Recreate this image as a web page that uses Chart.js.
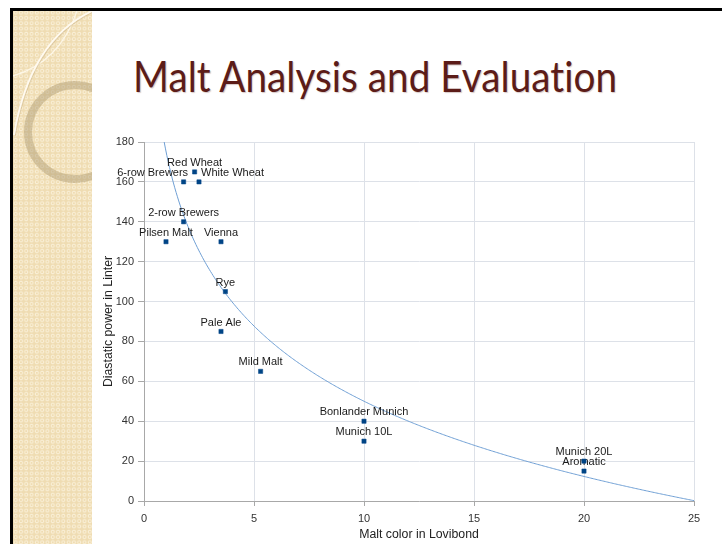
<!DOCTYPE html>
<html>
<head>
<meta charset="utf-8">
<title>Malt Analysis and Evaluation</title>
<script src="https://cdn.jsdelivr.net/npm/chart.js@4.4.1/dist/chart.umd.min.js"></script>
<style>
  html, body { margin: 0; padding: 0; background: #fff; }
  #slide { position: relative; width: 722px; height: 544px; overflow: hidden; background: #fff; }
  .rule { position: absolute; background: #000; }
  #strip {
    position: absolute; left: 13px; top: 10px; width: 79px; height: 534px;
    background-color: #efdcb2;
    background-image: radial-gradient(circle at 2.65px 2.65px,
      rgba(250, 241, 218, 0) 0.9px, rgba(251, 243, 222, 1) 1.5px, rgba(250, 241, 218, 0) 2.4px);
    background-size: 5.3px 5.3px;
  }
  #deco { position: absolute; left: 0; top: 0; }
  #title {
    position: absolute; left: 133px; top: 55px;
    font-family: Lato, "Open Sans", sans-serif; font-size: 42px; line-height: 42px;
    font-variant-ligatures: none; font-feature-settings: "liga" 0;
    color: #5c1c18; white-space: nowrap; transform-origin: 0 0;
    text-shadow: 1px 1px 1px rgba(90, 40, 30, 0.25);
  }
  #chart { position: absolute; left: 0; top: 0; }
</style>
</head>
<body>
<div id="slide">
  <div id="strip"></div>
  <svg id="deco" width="722" height="544">
    <defs>
      <clipPath id="stripClip"><rect x="13" y="10" width="79" height="534"/></clipPath>
    </defs>
    <g clip-path="url(#stripClip)" fill="none">
      <path d="M 77 11 Q 60 62 13 76" stroke="rgba(255,250,238,0.85)" stroke-width="1.2"/>
      <path d="M 93 12 Q 31 41 15 136" stroke="rgba(185,160,115,0.35)" stroke-width="1.5"/>
      <path d="M 92 11 Q 30 40 14 135" stroke="#fffaf0" stroke-width="1.8"/>
      <circle cx="75" cy="132" r="47" stroke="rgba(165,145,105,0.42)" stroke-width="8"/>
    </g>
  </svg>
  <div class="rule" style="left:10px;top:8px;width:712px;height:2.5px"></div>
  <div class="rule" style="left:10px;top:8px;width:3px;height:536px"></div>
  <div id="title">Malt Analysis and Evaluation</div>
  <canvas id="chart" width="722" height="544"></canvas>
</div>
<script>
// Malts, their colour (°Lovibond) and diastatic power (°Lintner)
const maltNames = ['6-row Brewers', 'Red Wheat', 'White Wheat', '2-row Brewers', 'Pilsen Malt',
  'Vienna', 'Rye', 'Pale Ale', 'Mild Malt', 'Bonlander Munich', 'Munich 10L', 'Munich 20L', 'Aromatic'];
const maltColor = [1.8, 2.3, 2.5, 1.8, 1, 3.5, 3.7, 3.5, 5.3, 10, 10, 20, 20];
const diastaticPower = [160, 165, 160, 140, 130, 130, 105, 85, 65, 40, 30, 20, 15];

const xTickValues = [0, 5, 10, 15, 20, 25];
const yTickValues = [0, 20, 40, 60, 80, 100, 120, 140, 160, 180];
const xAxisTitle = 'Malt color in Lovibond';
const yAxisTitle = 'Diastatic power in Linter';

// Fit the title line to its box width
const titleEl = document.getElementById('title');
titleEl.style.transform = 'scaleX(' + (484 / titleEl.getBoundingClientRect().width) + ')';

const FONT = '"Liberation Sans", Arial, sans-serif';

// Least-squares logarithmic trend: y = a + b ln(x)
function logFit(xs, ys) {
  const n = xs.length;
  const lx = xs.map(Math.log);
  const mx = lx.reduce((s, v) => s + v, 0) / n;
  const my = ys.reduce((s, v) => s + v, 0) / n;
  let sxy = 0, sxx = 0;
  for (let i = 0; i < n; i++) {
    sxy += (lx[i] - mx) * (ys[i] - my);
    sxx += (lx[i] - mx) * (lx[i] - mx);
  }
  const b = sxy / sxx;
  return { a: my - b * mx, b };
}

// Per-label placement where neighbouring names would collide
const labelPlacement = {
  '6-row Brewers': { align: 'right', dx: 4.5 },
  'White Wheat': { align: 'left', dx: 2 }
};

const trendAndLabels = {
  id: 'trendAndLabels',
  beforeDatasetsDraw(chart) {
    const { ctx, chartArea, scales: { x, y } } = chart;
    const { a, b } = logFit(maltColor, diastaticPower);
    ctx.save();
    ctx.beginPath();
    ctx.rect(chartArea.left, chartArea.top, chartArea.width, chartArea.height);
    ctx.clip();
    const x0 = Math.exp((y.max - a) / b);
    const steps = 400;
    ctx.beginPath();
    for (let i = 0; i <= steps; i++) {
      const v = x0 + (x.max - x0) * i / steps;
      const px = x.getPixelForValue(v);
      const py = y.getPixelForValue(a + b * Math.log(v));
      if (i === 0) ctx.moveTo(px, py); else ctx.lineTo(px, py);
    }
    ctx.strokeStyle = '#6f9fd4';
    ctx.lineWidth = 1;
    ctx.stroke();
    ctx.restore();

    // point names
    const meta = chart.getDatasetMeta(0);
    ctx.save();
    ctx.font = '11px ' + FONT;
    ctx.fillStyle = '#1a1a1a';
    ctx.textBaseline = 'middle';
    meta.data.forEach((pt, i) => {
      const name = maltNames[i];
      const p = labelPlacement[name] || { align: 'center', dx: 0 };
      ctx.textAlign = p.align;
      ctx.fillText(name, pt.x + p.dx, pt.y - 9);
    });
    ctx.restore();
  }
};

new Chart(document.getElementById('chart'), {
  type: 'scatter',
  data: {
    datasets: [{
      label: 'Malts',
      data: maltNames.map((name, i) => ({ x: maltColor[i], y: diastaticPower[i] })),
      pointStyle: 'rect',
      pointRadius: 3,
      pointBackgroundColor: '#004586',
      pointBorderColor: '#004586',
      pointBorderWidth: 0.5
    }]
  },
  options: {
    responsive: false,
    animation: false,
    events: [],
    layout: { padding: { left: 100, top: 142, right: 28, bottom: 0 } },
    plugins: { legend: { display: false }, tooltip: { enabled: false } },
    scales: {
      x: {
        type: 'linear', min: 0, max: 25,
        afterBuildTicks: s => { s.ticks = xTickValues.map(v => ({ value: v })); },
        afterFit: s => { s.height = 43; },
        grid: { color: '#dde1e8', tickLength: 5, tickColor: '#a8a8a8' },
        border: { color: '#a8a8a8' },
        ticks: { font: { family: FONT, size: 11 }, color: '#333', padding: 6, maxRotation: 0 },
        title: { display: true, text: xAxisTitle, color: '#222', font: { family: FONT, size: 12.3 },
                 padding: { top: 0, bottom: 1.6 } }
      },
      y: {
        type: 'linear', min: 0, max: 180,
        afterBuildTicks: s => { s.ticks = yTickValues.map(v => ({ value: v })); },
        afterFit: s => { s.width = 44; },
        grid: { color: '#dde1e8', tickLength: 6, tickColor: '#a8a8a8' },
        border: { color: '#a8a8a8' },
        ticks: { font: { family: FONT, size: 11 }, color: '#333', padding: 4 },
        title: { display: true, text: yAxisTitle, color: '#222', font: { family: FONT, size: 12.3 },
                 padding: { top: 1.6, bottom: 0 } }
      }
    }
  },
  plugins: [trendAndLabels]
});
</script>
</body>
</html>
